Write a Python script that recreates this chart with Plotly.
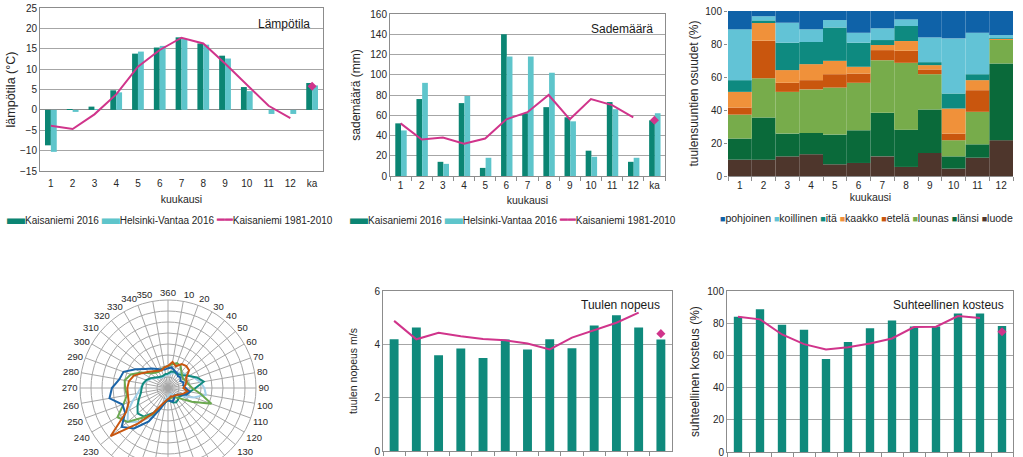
import numpy as np
import plotly.graph_objects as go

W, H = 1023, 520
FONT = "Liberation Sans, Arial, sans-serif"
TXT = "#262626"
GRID = "#a6a6a6"
FRAME = "#8c8c8c"

# ---------------- data ----------------
months = [str(i) for i in range(1, 13)]
cats = months + ["ka"]

temp_kaisaniemi = [-8.7, 0.2, 0.8, 4.8, 13.8, 15.3, 17.8, 16.3, 13.3, 5.6, 0.0, 0.0, 6.6]
temp_helsinki_vantaa = [-10.3, -0.5, 0.1, 4.3, 14.3, 15.7, 17.4, 16.0, 12.6, 4.6, -1.0, -1.0, 6.0]
temp_normal = [-3.9, -4.7, -1.1, 3.8, 10.6, 14.7, 17.7, 16.3, 11.4, 6.1, 1.0, -2.0]
temp_normal_ka = [5.8]

prec_kaisaniemi = [52, 76, 14, 72, 8, 140, 62, 68, 58, 25, 73, 14, 55]
prec_helsinki_vantaa = [45, 92, 12, 79, 18, 118, 118, 102, 54, 19, 66, 18, 62]
prec_normal = [52, 36, 38, 32, 37, 56, 63, 80, 56, 76, 70, 58]
prec_normal_ka = [55]

dir_names = ["pohjoinen", "koillinen", "itä", "kaakko", "etelä", "lounas", "länsi", "luode"]
dir_colors = ["#0f62a8", "#62c3d6", "#0e8a80", "#f0913a", "#c9560e", "#77ac4b", "#0a6a3a", "#4e362c"]
dir_luode = [9.9, 9.9, 11.9, 13.2, 7.1, 7.9, 11.9, 5.5, 14.0, 4.5, 11.1, 21.7]
dir_lansi = [12.8, 25.5, 13.8, 12.9, 18.0, 19.8, 26.4, 22.6, 26.3, 7.4, 8.1, 46.5]
dir_lounas = [14.5, 23.9, 25.3, 26.4, 28.5, 28.8, 31.9, 40.5, 21.4, 9.8, 19.7, 14.4]
dir_etela = [4.3, 22.7, 5.5, 5.6, 8.1, 5.6, 6.1, 7.3, 2.9, 4.0, 13.1, 0.3]
dir_kaakko = [9.5, 11.3, 7.7, 9.7, 8.1, 4.1, 3.1, 5.9, 2.6, 15.2, 6.1, 0.2]
dir_ita = [7.1, 1.0, 16.6, 13.4, 20.2, 14.6, 3.0, 9.1, 1.8, 9.1, 3.6, 0.3]
dir_koillinen = [30.8, 2.5, 12.1, 7.7, 4.5, 6.0, 7.1, 4.0, 15.0, 33.4, 25.1, 2.0]
dir_pohjoinen = [11.1, 3.2, 7.1, 11.1, 5.5, 13.2, 10.5, 5.1, 16.0, 16.6, 13.2, 14.6]

rose_angles = list(range(0, 360, 10))
rose_labels = ["360"] + [str(a) for a in range(10, 360, 10)]
rose_lightblue = [1.2, 1.3, 1.5, 1.6, 1.8, 2.0, 2.3, 2.6, 3.0, 3.3, 3.5, 2.5, 1.5, 1.0, 0.8, 0.7, 0.6, 0.7,
                  0.8, 1.0, 1.8, 3.0, 4.0, 4.8, 4.2, 3.4, 2.8, 2.5, 2.3, 2.0, 1.7, 1.4, 1.2, 1.1, 1.1, 1.2]
rose_teal = [1.3, 1.5, 1.6, 1.5, 1.6, 1.8, 2.2, 2.8, 3.3, 2.5, 2.0, 1.6, 1.4, 1.3, 1.4, 1.5, 1.4, 1.2,
             1.1, 1.3, 1.7, 2.6, 3.4, 3.6, 3.2, 2.8, 2.5, 2.4, 2.3, 2.1, 1.8, 1.5, 1.3, 1.2, 1.2, 1.3]
rose_green = [2.0, 2.2, 2.4, 2.3, 1.9, 1.7, 1.6, 1.8, 1.9, 2.2, 3.0, 4.2, 2.5, 1.5, 1.1, 1.0, 0.9, 1.0,
              1.1, 1.3, 1.8, 2.8, 3.5, 4.8, 5.3, 4.3, 3.8, 3.9, 4.0, 3.6, 2.8, 2.1, 1.8, 1.7, 1.8, 1.9]
rose_blue = [1.8, 1.9, 1.7, 1.6, 1.4, 1.5, 1.3, 1.5, 1.4, 1.6, 2.0, 1.8, 1.2, 1.0, 0.9, 1.1, 1.3, 1.2,
             1.1, 1.3, 2.0, 3.5, 4.8, 5.5, 4.5, 4.4, 5.4, 5.1, 4.5, 4.3, 3.4, 2.7, 2.3, 2.0, 1.8, 1.7]
rose_orange = [2.0, 2.4, 2.1, 2.5, 2.6, 2.5, 1.9, 1.8, 1.6, 1.4, 1.8, 1.5, 1.2, 1.0, 0.9, 0.9, 0.8, 0.9,
               1.0, 1.2, 1.6, 2.6, 4.2, 6.8, 4.4, 3.8, 3.7, 3.7, 3.6, 3.3, 2.7, 2.3, 2.0, 1.8, 1.7, 1.9]

wind_speed = [4.19, 4.63, 3.59, 3.84, 3.49, 4.18, 3.81, 4.19, 3.85, 4.71, 5.09, 4.63, 4.18]
wind_normal = [4.88, 4.19, 4.43, 4.30, 4.20, 4.15, 4.03, 3.81, 4.25, 4.53, 4.81, 5.19]
wind_normal_ka = [4.4]

humidity = [84, 88.6, 79, 76, 57.7, 68.3, 76.8, 81.7, 78, 78, 86.1, 86.1, 78.2]
humidity_normal = [84, 82.4, 73, 67, 63.7, 65.1, 67.4, 70.5, 77.6, 77.8, 84.4, 83.2]
humidity_normal_ka = [74.7]

C_DARK = "#0b8573"
C_LIGHT = "#5ec5cb"
C_LINE = "#d0348b"
C_BAR = "#0f8a7c"

# ---------------- helpers ----------------
def dx(a, b):
    return [a / W, b / W]


def dy(top, bottom):
    return [1 - bottom / H, 1 - top / H]


fig = go.Figure()

# Panel A : temperature
fig.add_bar(x=cats, y=temp_kaisaniemi, width=0.27, offset=-0.27, marker_color=C_DARK,
            marker_line_width=0, xaxis="x", yaxis="y", showlegend=False, name="Kaisaniemi 2016")
fig.add_bar(x=cats, y=temp_helsinki_vantaa, width=0.27, offset=0.0, marker_color=C_LIGHT,
            marker_line_width=0, xaxis="x", yaxis="y", showlegend=False, name="Helsinki-Vantaa 2016")
fig.add_scatter(x=months, y=temp_normal, mode="lines", line=dict(color=C_LINE, width=2),
                xaxis="x", yaxis="y", showlegend=False, name="Kaisaniemi 1981-2010")
fig.add_scatter(x=["ka"], y=temp_normal_ka, mode="markers", marker=dict(color=C_LINE, size=7, symbol="diamond"),
                xaxis="x", yaxis="y", showlegend=False)

# Panel B : precipitation
fig.add_bar(x=cats, y=prec_kaisaniemi, width=0.27, offset=-0.25, marker_color=C_DARK,
            marker_line_width=0, xaxis="x2", yaxis="y2", showlegend=False)
fig.add_bar(x=cats, y=prec_helsinki_vantaa, width=0.27, offset=0.02, marker_color=C_LIGHT,
            marker_line_width=0, xaxis="x2", yaxis="y2", showlegend=False)
fig.add_scatter(x=months, y=prec_normal, mode="lines", line=dict(color=C_LINE, width=2),
                xaxis="x2", yaxis="y2", showlegend=False)
fig.add_scatter(x=["ka"], y=prec_normal_ka, mode="markers", marker=dict(color=C_LINE, size=7, symbol="diamond"),
                xaxis="x2", yaxis="y2", showlegend=False)

# Panel C : wind direction shares (stacked from bottom)
stack_order = [dir_luode, dir_lansi, dir_lounas, dir_etela, dir_kaakko, dir_ita, dir_koillinen, dir_pohjoinen]
stack_names = dir_names[::-1]
stack_colors = dir_colors[::-1]
base = np.zeros(len(months))
for vals, nm, col in zip(stack_order, stack_names, stack_colors):
    fig.add_bar(x=months, y=vals, base=base.copy(), width=1.0, offset=-0.5, marker_color=col,
                marker_line_width=0, xaxis="x3", yaxis="y3", showlegend=False, name=nm)
    base = base + np.array(vals)

# Panel D : wind rose
for r, col in [(rose_lightblue, "#a3cfe8"), (rose_teal, "#118a7e"), (rose_green, "#6aa84f"),
               (rose_blue, "#1a64a8"), (rose_orange, "#c8560f")]:
    fig.add_trace(go.Scatterpolar(r=r + r[:1], theta=rose_angles + rose_angles[:1], mode="lines",
                                  line=dict(color=col, width=2), showlegend=False, subplot="polar"))

# Panel E : wind speed
fig.add_bar(x=cats, y=wind_speed, width=0.4, offset=-0.2, marker_color=C_BAR, marker_line_width=0,
            xaxis="x4", yaxis="y4", showlegend=False)
fig.add_scatter(x=months, y=wind_normal, mode="lines", line=dict(color=C_LINE, width=2),
                xaxis="x4", yaxis="y4", showlegend=False)
fig.add_scatter(x=["ka"], y=wind_normal_ka, mode="markers", marker=dict(color=C_LINE, size=7, symbol="diamond"),
                xaxis="x4", yaxis="y4", showlegend=False)

# Panel F : humidity
fig.add_bar(x=cats, y=humidity, width=0.38, offset=-0.19, marker_color=C_BAR, marker_line_width=0,
            xaxis="x5", yaxis="y5", showlegend=False)
fig.add_scatter(x=months, y=humidity_normal, mode="lines", line=dict(color=C_LINE, width=2),
                xaxis="x5", yaxis="y5", showlegend=False)
fig.add_scatter(x=["ka"], y=humidity_normal_ka, mode="markers", marker=dict(color=C_LINE, size=7, symbol="diamond"),
                xaxis="x5", yaxis="y5", showlegend=False)

tick_font = dict(family=FONT, size=10, color=TXT)


def xax(domain, anchor, catlist, title=None, ticks="", standoff=6):
    d = dict(domain=domain, anchor=anchor, type="category", categoryorder="array", categoryarray=catlist,
             range=[-0.5, len(catlist) - 0.5], showgrid=False, zeroline=False, showline=True,
             linecolor=FRAME, linewidth=1, tickfont=tick_font, ticks=ticks, ticklen=4,
             tickcolor=FRAME, fixedrange=True)
    if ticks:
        d["tickson"] = "boundaries"
    if title:
        d["title"] = dict(text=title, font=dict(family=FONT, size=10.5, color=TXT), standoff=standoff)
    return d


def yax(domain, anchor, rng, dtick, title, tsize=12, grid=True, mirror=True, standoff=6):
    return dict(domain=domain, anchor=anchor, range=rng, dtick=dtick, showgrid=grid, gridcolor=GRID,
                gridwidth=1, zeroline=False, showline=True, linecolor=FRAME, linewidth=1, mirror=mirror,
                tickfont=tick_font, ticks="", fixedrange=True,
                title=dict(text=title, font=dict(family=FONT, size=tsize, color=TXT), standoff=standoff))


xa = xax(dx(40, 323), "y", cats, "kuukausi", standoff=7)
xa["mirror"] = True
xa["ticklabelstandoff"] = 3
ya = yax(dy(8, 171), "x", [-15, 25], 5, "lämpötila (°C)", tsize=12.5, standoff=1)
ya["zeroline"] = True
ya["zerolinecolor"] = FRAME
ya["zerolinewidth"] = 1

xb = xax(dx(390, 665), "y2", cats, "kuukausi", ticks="outside", standoff=6)
xb["mirror"] = True
yb = yax(dy(14, 176), "x2", [0, 160], 20, "sademäärä (mm)", standoff=7)

xc = xax(dx(728, 1013), "y3", months, "kuukausi", ticks="outside", standoff=3)
xc["showline"] = True
yc = yax(dy(11, 176), "x3", [0, 100], 20, "tuulensuuntien osuudet (%)", grid=False, mirror=False, standoff=4)
yc["showline"] = False
yc["ticks"] = "outside"
yc["ticklen"] = 3
yc["tickcolor"] = FRAME

xe = xax(dx(383, 672), "y4", cats, None, ticks="outside")
xe["mirror"] = True
xe["showticklabels"] = False
ye = yax(dy(291, 451), "x4", [0, 6], 2, "tuulen nopeus m/s", tsize=10.5, standoff=14)

xf = xax(dx(727, 1013), "y5", cats, None, ticks="outside")
xf["mirror"] = True
xf["showticklabels"] = False
yf = yax(dy(291, 452), "x5", [0, 100], 20, "suhteellinen kosteus (%)", standoff=5)


def legend_text(items):
    parts = []
    for kind, col, label in items:
        if kind == "bar":
            sw = f"<span style='color:{col};font-size:18px'>▬</span>"
        elif kind == "line":
            sw = f"<span style='color:{col};font-size:13px'>━━</span>"
        else:
            sw = f"<span style='color:{col};font-size:9px'>■</span>"
        parts.append(sw + label)
    return parts


ab_items = [("bar", C_DARK, "Kaisaniemi 2016"), ("bar", C_LIGHT, "Helsinki-Vantaa 2016"),
            ("line", C_LINE, "Kaisaniemi 1981-2010")]
leg_ab = " ".join(legend_text(ab_items))
leg_c = " ".join(legend_text([("sq", c, n) for n, c in zip(dir_names, dir_colors)]))

ann_font = dict(family=FONT, size=10, color=TXT)
title_font = dict(family=FONT, size=12, color="#1a1a1a")
annotations = [
    dict(text=leg_ab, x=170 / W, y=1 - 218 / H, xref="paper", yref="paper", xanchor="center", yanchor="middle",
         showarrow=False, font=ann_font),
    dict(text=leg_ab, x=513 / W, y=1 - 218 / H, xref="paper", yref="paper", xanchor="center", yanchor="middle",
         showarrow=False, font=ann_font),
    dict(text=leg_c, x=866 / W, y=1 - 218 / H, xref="paper", yref="paper", xanchor="center", yanchor="middle",
         showarrow=False, font=dict(family=FONT, size=10.5, color=TXT)),
    dict(text="Lämpötila", x=0.962, y=0.96, xref="x domain", yref="y domain", xanchor="right", yanchor="top",
         showarrow=False, font=title_font),
    dict(text="Sademäärä", x=0.964, y=0.96, xref="x2 domain", yref="y2 domain", xanchor="right",
         yanchor="top", showarrow=False, font=title_font),
    dict(text="Tuulen nopeus", x=0.965, y=0.97, xref="x4 domain", yref="y4 domain", xanchor="right",
         yanchor="top", showarrow=False, font=title_font),
    dict(text="Suhteellinen kosteus", x=0.976, y=0.97, xref="x5 domain", yref="y5 domain", xanchor="right",
         yanchor="top", showarrow=False, font=title_font),
]

fig.update_layout(
    width=W, height=H, margin=dict(l=0, r=0, t=0, b=0), template="none",
    paper_bgcolor="white", plot_bgcolor="white", barmode="overlay", showlegend=False,
    font=dict(family=FONT, size=10, color=TXT),
    xaxis=xa, yaxis=ya, xaxis2=xb, yaxis2=yb, xaxis3=xc, yaxis3=yc,
    xaxis4=xe, yaxis4=ye, xaxis5=xf, yaxis5=yf,
    polar=dict(
        domain=dict(x=dx(80, 256), y=dy(300, 476)), bgcolor="white",
        angularaxis=dict(direction="clockwise", rotation=90, tickmode="array", tickvals=rose_angles,
                         ticktext=rose_labels, tickfont=dict(family=FONT, size=9.5, color=TXT),
                         showgrid=True, gridcolor=GRID, gridwidth=1, showline=True, linecolor=GRID,
                         ticks=""),
        radialaxis=dict(range=[0, 8], dtick=1, showticklabels=False, ticks="", showline=False,
                        showgrid=True, gridcolor=GRID, gridwidth=1),
    ),
    annotations=annotations,
)

fig.write_html("out.html")
